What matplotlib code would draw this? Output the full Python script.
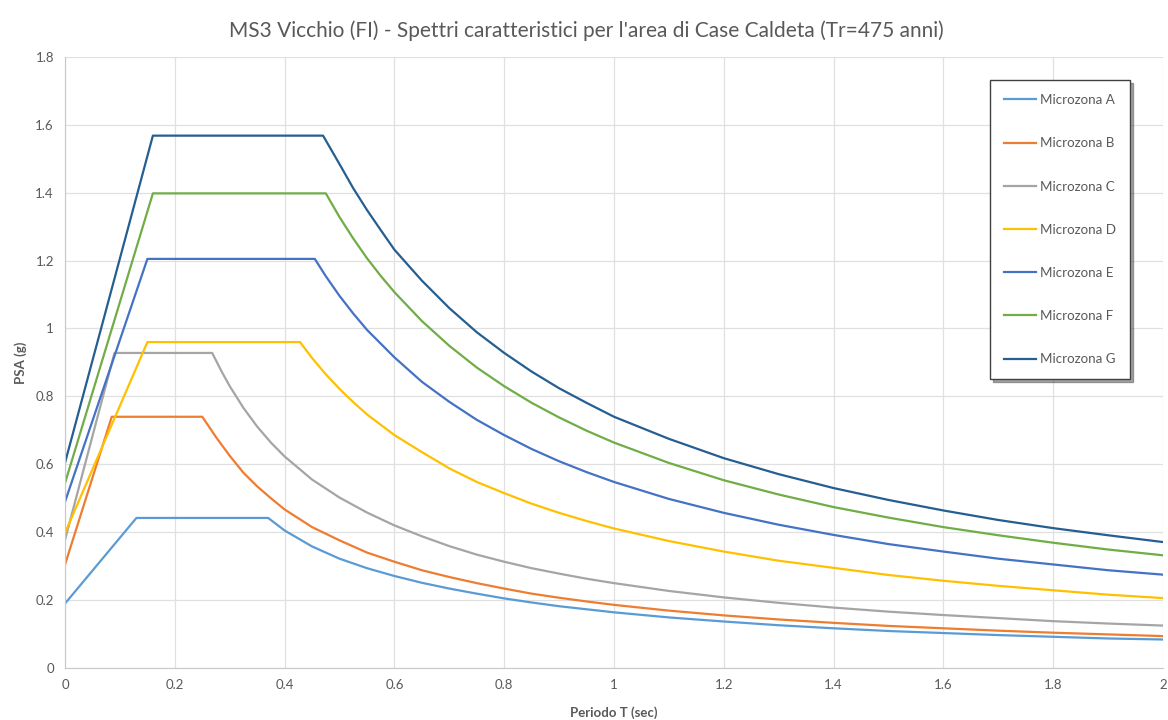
import matplotlib
matplotlib.use("Agg")
import matplotlib.pyplot as plt
from matplotlib.ticker import FuncFormatter, MultipleLocator

plt.rcParams['font.family'] = ['Lato', 'DejaVu Sans']

# periodi (sec) e ordinate spettrali (g), una lista per microzona
t_a = [0, 0.13, 0.37, 0.4, 0.45, 0.5, 0.55, 0.6, 0.65, 0.7, 0.75, 0.8, 0.85, 0.9, 0.95, 1.0,
       1.1, 1.2, 1.3, 1.4, 1.5, 1.6, 1.7, 1.8, 1.9, 2.0]
psa_a = [0.19, 0.442, 0.442, 0.405, 0.358, 0.322, 0.294, 0.271, 0.251, 0.234, 0.219, 0.205,
         0.193, 0.182, 0.173, 0.164, 0.149, 0.137, 0.126, 0.117, 0.109, 0.103, 0.097, 0.092,
         0.087, 0.084]

t_b = [0, 0.085, 0.25, 0.275, 0.3, 0.325, 0.35, 0.375, 0.4, 0.45, 0.5, 0.55, 0.6, 0.65, 0.7,
       0.75, 0.8, 0.85, 0.9, 0.95, 1.0, 1.1, 1.2, 1.3, 1.4, 1.5, 1.6, 1.7, 1.8, 1.9, 2.0]
psa_b = [0.305, 0.74, 0.74, 0.68, 0.625, 0.575, 0.535, 0.5, 0.467, 0.415, 0.376, 0.34, 0.313,
         0.288, 0.268, 0.25, 0.234, 0.219, 0.207, 0.196, 0.186, 0.169, 0.155, 0.143, 0.133,
         0.124, 0.117, 0.11, 0.104, 0.099, 0.094]

t_c = [0, 0.09, 0.268, 0.285, 0.3, 0.325, 0.35, 0.375, 0.4, 0.45, 0.5, 0.55, 0.6, 0.65, 0.7,
       0.75, 0.8, 0.85, 0.9, 0.95, 1.0, 1.1, 1.2, 1.3, 1.4, 1.5, 1.6, 1.7, 1.8, 1.9, 2.0]
psa_c = [0.378, 0.928, 0.928, 0.874, 0.83, 0.766, 0.711, 0.664, 0.623, 0.555, 0.502, 0.458,
         0.42, 0.388, 0.359, 0.334, 0.313, 0.294, 0.278, 0.263, 0.25, 0.227, 0.208, 0.192,
         0.178, 0.166, 0.156, 0.147, 0.138, 0.131, 0.125]

t_d = [0, 0.15, 0.428, 0.45, 0.475, 0.5, 0.525, 0.55, 0.6, 0.65, 0.7, 0.75, 0.8, 0.85, 0.9,
       0.95, 1.0, 1.1, 1.2, 1.3, 1.4, 1.5, 1.6, 1.7, 1.8, 1.9, 2.0]
psa_d = [0.398, 0.96, 0.96, 0.913, 0.865, 0.822, 0.783, 0.747, 0.686, 0.636, 0.588, 0.548,
         0.515, 0.484, 0.457, 0.433, 0.411, 0.374, 0.343, 0.316, 0.295, 0.274, 0.257, 0.242,
         0.229, 0.216, 0.206]

t_e = [0, 0.15, 0.455, 0.475, 0.5, 0.525, 0.55, 0.6, 0.65, 0.7, 0.75, 0.8, 0.85, 0.9, 0.95,
       1.0, 1.1, 1.2, 1.3, 1.4, 1.5, 1.6, 1.7, 1.8, 1.9, 2.0]
psa_e = [0.49, 1.205, 1.205, 1.154, 1.096, 1.044, 0.996, 0.915, 0.843, 0.784, 0.731, 0.686,
         0.645, 0.609, 0.577, 0.548, 0.498, 0.457, 0.422, 0.392, 0.365, 0.343, 0.322, 0.305,
         0.288, 0.275]

t_f = [0, 0.16, 0.475, 0.5, 0.525, 0.55, 0.575, 0.6, 0.65, 0.7, 0.75, 0.8, 0.85, 0.9, 0.95,
       1.0, 1.1, 1.2, 1.3, 1.4, 1.5, 1.6, 1.7, 1.8, 1.9, 2.0]
psa_f = [0.545, 1.398, 1.398, 1.328, 1.265, 1.207, 1.155, 1.107, 1.022, 0.949, 0.885, 0.83,
         0.781, 0.738, 0.699, 0.664, 0.604, 0.553, 0.511, 0.474, 0.443, 0.415, 0.391, 0.369,
         0.349, 0.332]

t_g = [0, 0.16, 0.47, 0.5, 0.525, 0.55, 0.575, 0.6, 0.65, 0.7, 0.75, 0.8, 0.85, 0.9, 0.95,
       1.0, 1.1, 1.2, 1.3, 1.4, 1.5, 1.6, 1.7, 1.8, 1.9, 2.0]
psa_g = [0.605, 1.568, 1.568, 1.484, 1.413, 1.349, 1.29, 1.232, 1.141, 1.06, 0.989, 0.928,
         0.873, 0.824, 0.781, 0.74, 0.675, 0.618, 0.571, 0.53, 0.495, 0.464, 0.436, 0.412,
         0.391, 0.371]

labels = ['Microzona A', 'Microzona B', 'Microzona C', 'Microzona D',
          'Microzona E', 'Microzona F', 'Microzona G']
colors = ['#5B9BD5', '#ED7D31', '#A5A5A5', '#FFC000', '#4472C4', '#70AD47', '#255E91']

series = [(t_a, psa_a), (t_b, psa_b), (t_c, psa_c), (t_d, psa_d),
          (t_e, psa_e), (t_f, psa_f), (t_g, psa_g)]

fig = plt.figure(figsize=(11.68, 7.2), dpi=100)
ax = fig.add_axes([0.0557, 0.0722, 0.94, 0.8488])

for (t, psa), lab, col in zip(series, labels, colors):
    ax.plot(t, psa, color=col, lw=1.6, label=lab, solid_joinstyle='round')

ax.set_xlim(0, 2)
ax.set_ylim(0, 1.8)
ax.xaxis.set_major_locator(MultipleLocator(0.2))
ax.yaxis.set_major_locator(MultipleLocator(0.2))
fmt = FuncFormatter(lambda v, p: '%g' % round(v, 2))
ax.xaxis.set_major_formatter(fmt)
ax.yaxis.set_major_formatter(fmt)
ax.grid(True, color='#E0E0E0', lw=0.9)
ax.set_axisbelow(True)
for s in ['top', 'right']:
    ax.spines[s].set_visible(False)
for s in ['left', 'bottom']:
    ax.spines[s].set_color('#C8C8C8')
ax.tick_params(length=0, colors='#595959', labelsize=9.5, pad=8)

ax.set_xlabel('Periodo T (sec)', fontsize=9.5, fontweight='bold', color='#595959', labelpad=11)
ax.set_ylabel('PSA (g)', fontsize=9.5, fontweight='bold', color='#595959', labelpad=6)

fig.suptitle("MS3 Vicchio (FI) - Spettri caratteristici per l'area di Case Caldeta (Tr=475 anni)",
             x=0.502, y=0.972, fontsize=15.0, color='#595959')

leg = ax.legend(loc='upper right', bbox_to_anchor=(0.970, 0.962), fontsize=9.6,
                labelspacing=2.34, handlelength=2.4, handletextpad=0.3,
                borderpad=1.05, borderaxespad=0, fancybox=False, shadow=True,
                framealpha=1)
leg.get_frame().set_edgecolor('#404040')
leg.get_frame().set_linewidth(1.0)
for txt in leg.get_texts():
    txt.set_color('#595959')

fig.savefig('out.png', dpi=100)
